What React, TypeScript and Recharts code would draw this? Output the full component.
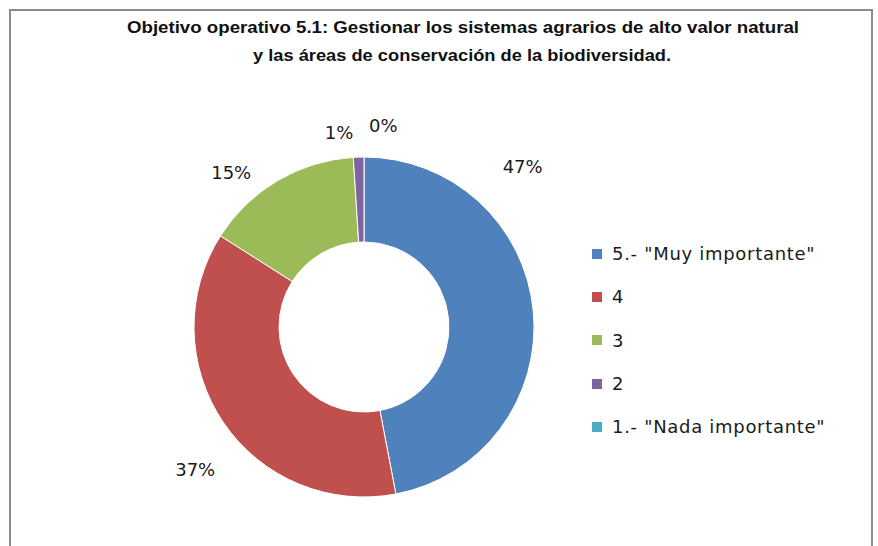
import React from "react";
import { PieChart, Pie, Cell, Legend } from "recharts";

const TITLE_LINES = [
  "Objetivo operativo 5.1: Gestionar los sistemas agrarios de alto valor natural",
  "y las áreas de conservación de la biodiversidad.",
];
const CATEGORIES = [
  '5.- "Muy importante"',
  "4",
  "3",
  "2",
  '1.- "Nada importante"',
];
const SHARES = [47, 37, 15, 1, 0];
const COLORS = ["#4F81BD", "#C0504D", "#9BBB59", "#8064A2", "#4BACC6"];

// per-slice nudges so the labels sit where Excel's best-fit put them
const LABEL_SHIFT = [-40, -6, -10, -5.5, 5.5];
const LABEL_RADIUS = [226, 221, 204, 196, 202];

const data = CATEGORIES.map((name, i) => ({ name, value: SHARES[i] }));

const FONT = "'DejaVu Sans', Verdana, sans-serif";

function renderLabel(props: any) {
  const { cx, cy, midAngle, index, value } = props;
  const cw = ((90 - midAngle + LABEL_SHIFT[index]) * Math.PI) / 180;
  const r = LABEL_RADIUS[index];
  const x = cx + r * Math.sin(cw);
  const y = cy - r * Math.cos(cw);
  return (
    <text
      x={x}
      y={y}
      textAnchor="middle"
      dominantBaseline="central"
      fontFamily={FONT}
      fontSize={18}
      fill="#1a1a1a"
    >
      {`${value}%`}
    </text>
  );
}

function LegendBox() {
  return (
    <div
      style={{
        fontFamily: FONT,
        fontSize: 18,
        letterSpacing: 0.7,
        color: "#1a1a1a",
      }}
    >
      {CATEGORIES.map((c, i) => (
        <div
          key={c}
          style={{ display: "flex", alignItems: "center", height: 43.3 }}
        >
          <span
            style={{
              width: 10,
              height: 10,
              background: COLORS[i],
              marginRight: 10,
              display: "inline-block",
            }}
          />
          <span style={{ whiteSpace: "pre" }}>{c}</span>
        </div>
      ))}
    </div>
  );
}

export default function App() {
  return (
    <div
      style={{
        position: "absolute",
        left: 0,
        top: 0,
        width: 878,
        height: 546,
        overflow: "hidden",
        background: "#fff",
      }}
    >
      <div
        style={{
          position: "absolute",
          left: 9,
          top: 9,
          width: 860,
          height: 600,
          border: "2px solid #8c8c8c",
        }}
      />
      <svg
        width={878}
        height={70}
        style={{ position: "absolute", left: 0, top: 0 }}
      >
        <text
          x={463}
          y={33}
          textAnchor="middle"
          fontFamily="'Liberation Sans', Arial, sans-serif"
          fontWeight="bold"
          fontSize={16}
          textLength={672}
          lengthAdjust="spacingAndGlyphs"
          fill="#111"
        >
          {TITLE_LINES[0]}
        </text>
        <text
          x={462}
          y={61}
          textAnchor="middle"
          fontFamily="'Liberation Sans', Arial, sans-serif"
          fontWeight="bold"
          fontSize={16}
          textLength={418}
          lengthAdjust="spacingAndGlyphs"
          fill="#111"
        >
          {TITLE_LINES[1]}
        </text>
      </svg>
      <div style={{ position: "absolute", left: 0, top: 0 }}>
        <PieChart
          width={878}
          height={546}
          margin={{ top: 0, right: 0, bottom: 0, left: 0 }}
        >
          <Pie
            data={data}
            dataKey="value"
            nameKey="name"
            cx={364}
            cy={327}
            innerRadius={85}
            outerRadius={170}
            startAngle={90}
            endAngle={-270}
            stroke="#fff"
            strokeWidth={1}
            label={renderLabel}
            labelLine={false}
            isAnimationActive={false}
          >
            {data.map((d, i) => (
              <Cell key={d.name} fill={COLORS[i]} />
            ))}
          </Pie>
          <Legend
            layout="vertical"
            align="right"
            verticalAlign="top"
            wrapperStyle={{ left: 592, top: 232, width: 280 }}
            content={() => <LegendBox />}
          />
        </PieChart>
      </div>
    </div>
  );
}
